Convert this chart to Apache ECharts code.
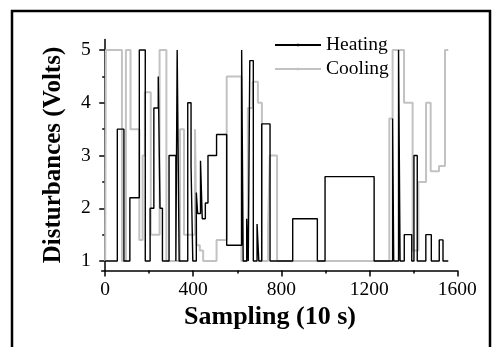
<!DOCTYPE html>
<html>
<head>
<meta charset="utf-8">
<script src="https://cdn.jsdelivr.net/npm/echarts@6/dist/echarts.min.js"></script>
<style>
  html, body { margin: 0; padding: 0; background: #fff; }
  #chart { width: 493px; height: 347px; }
</style>
</head>
<body>
<div id="chart"></div>
<script>
// step data: [sample, volts], value holds until the next sample
var heatingSteps = [
  [0, 1], [55, 3.5], [85, 1], [112, 2.2], [155, 5], [182, 1], [204, 2.0], [221, 3.9],
  [241, 4.5], [249, 2.0], [260, 1], [290, 3.0], [321, 1], [327, 5], [336, 1], [375, 4.0],
  [390, 2.8], [398, 1], [414, 2.3], [420, 1.9], [433, 2.9], [441, 1.8], [455, 2.1], [467, 3.0],
  [506, 3.4], [552, 1.3], [620, 5], [627, 1], [643, 1.8], [650, 1], [657, 4.8], [673, 1],
  [690, 1.7], [698, 1], [711, 3.6], [749, 1], [852, 1.8], [964, 1], [999, 2.6], [1222, 1],
  [1306, 3.7], [1311, 1], [1333, 5], [1340, 1], [1359, 1.5], [1393, 1], [1403, 3.0], [1418, 1],
  [1457, 1.5], [1482, 1], [1518, 1.4], [1535, 1], [1559, 1]
];
var coolingSteps = [
  [0, 1], [3, 5], [76, 1], [94, 5], [115, 3.5], [155, 1.4], [170, 3.0], [180, 4.2],
  [207, 1.5], [247, 5], [278, 1], [340, 3.5], [358, 1.5], [408, 3.5], [415, 1.3], [430, 1.2],
  [445, 1], [506, 1.4], [552, 4.5], [619, 1], [648, 3.9], [670, 4.4], [694, 4.0], [712, 1],
  [740, 1.6], [748, 3.0], [781, 1], [1291, 3.7], [1306, 5], [1358, 4.0], [1397, 1.2],
  [1423, 2.5], [1458, 4.0], [1479, 2.7], [1517, 2.8], [1544, 5], [1559, 5]
];
var xTicks = [0, 400, 800, 1200, 1600];
var xMinorTicks = [200, 600, 1000, 1400];
var yTicks = [1, 2, 3, 4, 5];
var yMinorTicks = [1.5, 2.5, 3.5, 4.5];

var serif = '"Liberation Serif", "Times New Roman", serif';

var chart = echarts.init(document.getElementById('chart'));

var baseX = {
  type: 'value', min: -16, max: 1600, position: 'bottom',
  splitLine: { show: false }
};
var baseY = {
  type: 'value', min: 0.82, max: 5.2, position: 'left',
  splitLine: { show: false }
};
var plain = function (v) { return String(v); };

chart.setOption({
  animation: false,
  backgroundColor: '#fff',
  grid: { left: 101.7, right: 35.7, top: 39.5, bottom: 76.5 },
  legend: {
    orient: 'vertical',
    left: 269, top: 30,
    itemWidth: 46, itemHeight: 3, itemGap: 4,
    data: ['Heating', 'Cooling'],
    textStyle: { fontFamily: serif, fontSize: 19.5, color: '#000' }
  },
  xAxis: [
    Object.assign({}, baseX, {
      name: 'Sampling (10 s)',
      nameLocation: 'middle',
      nameGap: 27,
      nameTextStyle: { fontFamily: serif, fontSize: 26, fontWeight: 'bold', color: '#000', padding: [0, 19, 0, 0] },
      axisLine: { lineStyle: { color: '#000', width: 1.5 } },
      axisTick: { customValues: xTicks, length: 6, lineStyle: { color: '#000', width: 1.5 } },
      axisLabel: { customValues: xTicks, formatter: plain, margin: 9, fontFamily: serif, fontSize: 19.5, color: '#000' }
    }),
    Object.assign({}, baseX, {
      axisLine: { show: false },
      axisTick: { customValues: xMinorTicks, length: 3, lineStyle: { color: '#000', width: 1.5 } },
      axisLabel: { show: false }
    })
  ],
  yAxis: [
    Object.assign({}, baseY, {
      name: 'Disturbances (Volts)',
      nameLocation: 'middle',
      nameGap: 36,
      nameTextStyle: { fontFamily: serif, fontSize: 25, fontWeight: 'bold', color: '#000' },
      axisLine: { show: true, lineStyle: { color: '#000', width: 1.5 } },
      axisTick: { show: true, customValues: yTicks, length: 6, lineStyle: { color: '#000', width: 1.5 } },
      axisLabel: { customValues: yTicks, formatter: plain, margin: 11, fontFamily: serif, fontSize: 19.5, color: '#000' }
    }),
    Object.assign({}, baseY, {
      axisLine: { show: false },
      axisTick: { show: true, customValues: yMinorTicks, length: 3, lineStyle: { color: '#000', width: 1.5 } },
      axisLabel: { show: false }
    })
  ],
  series: [
    {
      name: 'Cooling',
      type: 'line',
      step: 'end',
      data: coolingSteps,
      symbol: 'rect',
      showSymbol: false,
      color: '#c2c2c2',
      lineStyle: { color: '#c2c2c2', width: 2 }
    },
    {
      name: 'Heating',
      type: 'line',
      step: 'end',
      data: heatingSteps,
      symbol: 'rect',
      showSymbol: false,
      color: '#000',
      lineStyle: { color: '#000', width: 1.4 }
    }
  ],
  graphic: [
    {
      type: 'rect',
      shape: { x: 12, y: 11, width: 478, height: 360 },
      style: { fill: null, stroke: '#000', lineWidth: 2.5 },
      silent: true
    }
  ]
});
</script>
</body>
</html>
